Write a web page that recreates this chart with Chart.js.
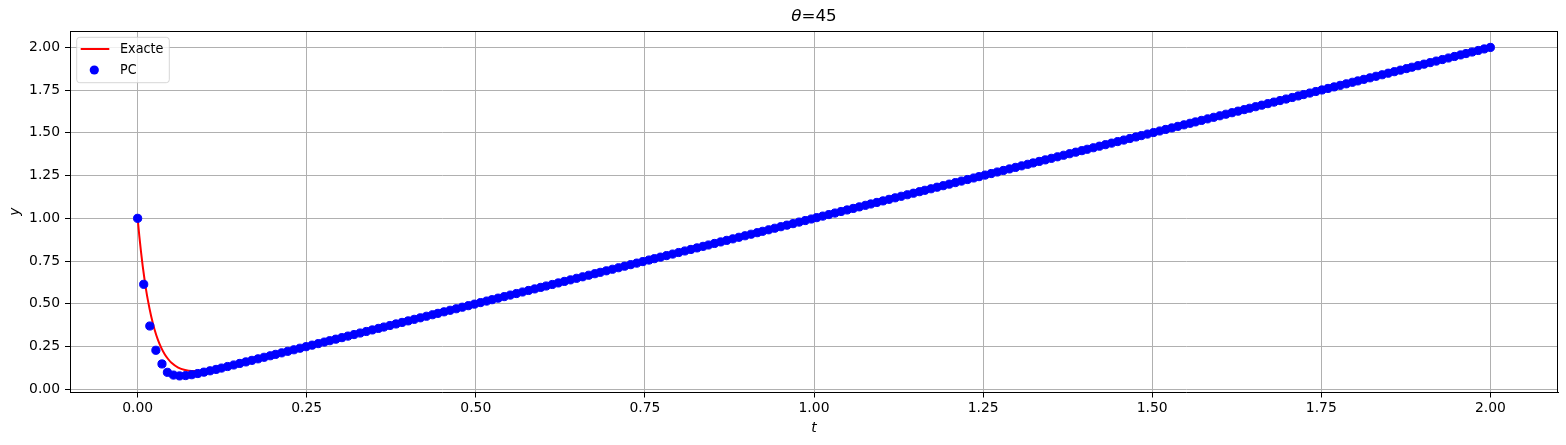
<!DOCTYPE html>
<html><head><meta charset="utf-8">
<script src="https://cdn.jsdelivr.net/npm/chart.js@4.4.0/dist/chart.umd.min.js"></script>
<style>html,body{margin:0;padding:0;background:#fff}canvas{display:block}</style>
</head><body>
<canvas id="c" width="1566" height="445"></canvas>
<script>
const titleSymbol = 'θ';
const titleRest = '=45';
const xLabel = 't';
const yLabel = 'y';
const seriesNames = ['Exacte', 'PC'];
const xTicks = [0, 0.25, 0.5, 0.75, 1.0, 1.25, 1.5, 1.75, 2.0];
const yTicks = [0, 0.25, 0.5, 0.75, 1.0, 1.25, 1.5, 1.75, 2.0];

const exactT = [0, 0.0025, 0.005, 0.0075, 0.01, 0.0125, 0.015, 0.02, 0.025, 0.03, 0.035, 0.04, 0.045, 0.05, 0.06, 0.07, 0.08, 0.09, 0.10, 0.12, 0.15, 0.20, 2.00];
const exactY = [1.000, 0.896, 0.804, 0.721, 0.648, 0.582, 0.524, 0.427, 0.350, 0.289, 0.242, 0.205, 0.177, 0.155, 0.127, 0.113, 0.107, 0.107, 0.111, 0.125, 0.151, 0.200, 2.000];

const pcT = [
0.000,0.009,0.018,0.027,0.036,0.044,0.053,0.062,0.071,
0.080,0.089,0.098,0.107,0.116,0.124,0.133,0.142,0.151,
0.160,0.169,0.178,0.187,0.196,0.204,0.213,0.222,0.231,
0.240,0.249,0.258,0.267,0.276,0.284,0.293,0.302,0.311,
0.320,0.329,0.338,0.347,0.356,0.364,0.373,0.382,0.391,
0.400,0.409,0.418,0.427,0.436,0.444,0.453,0.462,0.471,
0.480,0.489,0.498,0.507,0.516,0.524,0.533,0.542,0.551,
0.560,0.569,0.578,0.587,0.596,0.604,0.613,0.622,0.631,
0.640,0.649,0.658,0.667,0.676,0.684,0.693,0.702,0.711,
0.720,0.729,0.738,0.747,0.756,0.764,0.773,0.782,0.791,
0.800,0.809,0.818,0.827,0.836,0.844,0.853,0.862,0.871,
0.880,0.889,0.898,0.907,0.916,0.924,0.933,0.942,0.951,
0.960,0.969,0.978,0.987,0.996,1.004,1.013,1.022,1.031,
1.040,1.049,1.058,1.067,1.076,1.084,1.093,1.102,1.111,
1.120,1.129,1.138,1.147,1.156,1.164,1.173,1.182,1.191,
1.200,1.209,1.218,1.227,1.236,1.244,1.253,1.262,1.271,
1.280,1.289,1.298,1.307,1.316,1.324,1.333,1.342,1.351,
1.360,1.369,1.378,1.387,1.396,1.404,1.413,1.422,1.431,
1.440,1.449,1.458,1.467,1.476,1.484,1.493,1.502,1.511,
1.520,1.529,1.538,1.547,1.556,1.564,1.573,1.582,1.591,
1.600,1.609,1.618,1.627,1.636,1.644,1.653,1.662,1.671,
1.680,1.689,1.698,1.707,1.716,1.724,1.733,1.742,1.751,
1.760,1.769,1.778,1.787,1.796,1.804,1.813,1.822,1.831,
1.840,1.849,1.858,1.867,1.876,1.884,1.893,1.902,1.911,
1.920,1.929,1.938,1.947,1.956,1.964,1.973,1.982,1.991,
2.000];

const pcY = [
1.000,0.614,0.370,0.228,0.148,0.099,0.083,0.078,0.080,
0.085,0.092,0.100,0.108,0.116,0.124,0.133,0.142,0.151,
0.160,0.169,0.178,0.187,0.196,0.204,0.213,0.222,0.231,
0.240,0.249,0.258,0.267,0.276,0.284,0.293,0.302,0.311,
0.320,0.329,0.338,0.347,0.356,0.364,0.373,0.382,0.391,
0.400,0.409,0.418,0.427,0.436,0.444,0.453,0.462,0.471,
0.480,0.489,0.498,0.507,0.516,0.524,0.533,0.542,0.551,
0.560,0.569,0.578,0.587,0.596,0.604,0.613,0.622,0.631,
0.640,0.649,0.658,0.667,0.676,0.684,0.693,0.702,0.711,
0.720,0.729,0.738,0.747,0.756,0.764,0.773,0.782,0.791,
0.800,0.809,0.818,0.827,0.836,0.844,0.853,0.862,0.871,
0.880,0.889,0.898,0.907,0.916,0.924,0.933,0.942,0.951,
0.960,0.969,0.978,0.987,0.996,1.004,1.013,1.022,1.031,
1.040,1.049,1.058,1.067,1.076,1.084,1.093,1.102,1.111,
1.120,1.129,1.138,1.147,1.156,1.164,1.173,1.182,1.191,
1.200,1.209,1.218,1.227,1.236,1.244,1.253,1.262,1.271,
1.280,1.289,1.298,1.307,1.316,1.324,1.333,1.342,1.351,
1.360,1.369,1.378,1.387,1.396,1.404,1.413,1.422,1.431,
1.440,1.449,1.458,1.467,1.476,1.484,1.493,1.502,1.511,
1.520,1.529,1.538,1.547,1.556,1.564,1.573,1.582,1.591,
1.600,1.609,1.618,1.627,1.636,1.644,1.653,1.662,1.671,
1.680,1.689,1.698,1.707,1.716,1.724,1.733,1.742,1.751,
1.760,1.769,1.778,1.787,1.796,1.804,1.813,1.822,1.831,
1.840,1.849,1.858,1.867,1.876,1.884,1.893,1.902,1.911,
1.920,1.929,1.938,1.947,1.956,1.964,1.973,1.982,1.991,
2.000];

const FONT = 'DejaVu Sans';
const RED = '#ff0000';
const BLUE = '#0000ff';

const framePlugin = {
  id: 'frame',
  afterDraw(chart) {
    const {ctx, chartArea: a} = chart;
    ctx.save();
    ctx.strokeStyle = '#000';
    ctx.lineWidth = 1;
    ctx.beginPath();
    const top = Math.round(a.top) + 0.5, right = Math.round(a.right) - 0.5;
    ctx.moveTo(Math.round(a.left), top); ctx.lineTo(right + 0.5, top);
    ctx.moveTo(right, top); ctx.lineTo(right, Math.round(a.bottom));
    ctx.stroke();
    // title centred over the axes
    const cx = (a.left + a.right) / 2;
    ctx.fillStyle = '#000';
    ctx.textBaseline = 'middle';
    ctx.font = 'italic 16.7px "' + FONT + '"';
    const w1 = ctx.measureText(titleSymbol).width;
    ctx.font = '16.7px "' + FONT + '"';
    const w2 = ctx.measureText(titleRest).width;
    const x0 = cx - (w1 + w2) / 2;
    ctx.textAlign = 'left';
    ctx.font = 'italic 16.7px "' + FONT + '"';
    ctx.fillText(titleSymbol, x0, 16.5);
    ctx.font = '16.7px "' + FONT + '"';
    ctx.fillText(titleRest, x0 + w1, 16.5);
    // legend
    const lx = a.left + 6.7, ly = a.top + 6.3, lw = 92.6, lh = 45.4, r = 3;
    ctx.beginPath();
    ctx.moveTo(lx + r, ly);
    ctx.lineTo(lx + lw - r, ly); ctx.arcTo(lx + lw, ly, lx + lw, ly + r, r);
    ctx.lineTo(lx + lw, ly + lh - r); ctx.arcTo(lx + lw, ly + lh, lx + lw - r, ly + lh, r);
    ctx.lineTo(lx + r, ly + lh); ctx.arcTo(lx, ly + lh, lx, ly + lh - r, r);
    ctx.lineTo(lx, ly + r); ctx.arcTo(lx, ly, lx + r, ly, r);
    ctx.closePath();
    ctx.fillStyle = 'rgba(255,255,255,0.8)';
    ctx.fill();
    ctx.strokeStyle = 'rgba(204,204,204,0.8)';
    ctx.lineWidth = 1;
    ctx.stroke();
    const ds = chart.data.datasets;
    const y1 = a.top + 18, y2 = a.top + 39;
    ctx.strokeStyle = ds[0].borderColor;
    ctx.lineWidth = 2;
    ctx.beginPath(); ctx.moveTo(a.left + 10.7, y1); ctx.lineTo(a.left + 39.3, y1); ctx.stroke();
    ctx.fillStyle = ds[1].backgroundColor;
    ctx.beginPath(); ctx.arc(a.left + 24.3, y2, 4.6, 0, Math.PI * 2); ctx.fill();
    ctx.fillStyle = '#000';
    ctx.font = '13.9px "' + FONT + '"';
    ctx.textAlign = 'left';
    ctx.textBaseline = 'middle';
    ctx.fillText(ds[0].label, a.left + 50, y1, 43.5);
    ctx.fillText(ds[1].label, a.left + 50, y2, 16.5);
    ctx.restore();
  }
};

new Chart(document.getElementById('c'), {
  type: 'scatter',
  data: {
    datasets: [
      {
        label: seriesNames[0],
        data: exactT.map((t, i) => ({x: t, y: exactY[i]})),
        showLine: true,
        borderColor: RED,
        backgroundColor: RED,
        borderWidth: 2,
        pointRadius: 0,
        cubicInterpolationMode: 'monotone',
        fill: false,
        order: 2
      },
      {
        label: seriesNames[1],
        data: pcT.map((t, i) => ({x: t, y: pcY[i]})),
        showLine: false,
        borderColor: BLUE,
        backgroundColor: BLUE,
        pointRadius: 4.1,
        pointBorderWidth: 1,
        order: 1
      }
    ]
  },
  options: {
    responsive: false,
    animation: false,
    devicePixelRatio: 1,
    layout: {padding: {left: 0, right: 8, top: 31, bottom: 0}},
    plugins: {legend: {display: false}, tooltip: {enabled: false}, title: {display: false}},
    scales: {
      x: {
        type: 'linear', position: 'bottom', min: -0.1, max: 2.1,
        afterBuildTicks: s => { s.ticks = xTicks.map(v => ({value: v})); },
        afterFit: s => { s.height = 52.5; },
        grid: {color: '#b0b0b0', lineWidth: 1, tickColor: '#000', tickLength: 5, tickWidth: 1},
        border: {color: '#000', width: 1},
        ticks: {color: '#000', font: {family: FONT, size: 13.9}, padding: 3, maxRotation: 0, autoSkip: false,
                callback: v => Number(v).toFixed(2)},
        title: {display: true, text: xLabel, color: '#000', font: {family: FONT, size: 13.9, style: 'italic'},
                padding: {top: 0, bottom: 8.7}}
      },
      y: {
        type: 'linear', position: 'left', min: -0.019, max: 2.096,
        afterBuildTicks: s => { s.ticks = yTicks.map(v => ({value: v})); },
        afterFit: s => { s.width = 70; },
        grid: {color: '#b0b0b0', lineWidth: 1, tickColor: '#000', tickLength: 5, tickWidth: 1},
        border: {color: '#000', width: 1},
        ticks: {color: '#000', font: {family: FONT, size: 13.9}, padding: 5, autoSkip: false,
                callback: v => Number(v).toFixed(2)},
        title: {display: true, text: yLabel, color: '#000', font: {family: FONT, size: 13.9, style: 'italic'},
                padding: {top: 6.7, bottom: 0}}
      }
    }
  },
  plugins: [framePlugin]
});
</script>
</body></html>
